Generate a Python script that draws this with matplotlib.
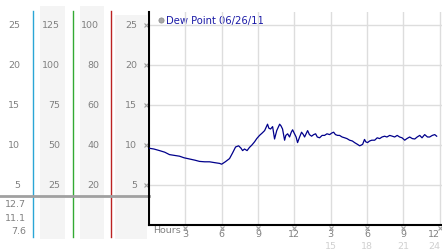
import matplotlib

matplotlib.use("Agg")
import matplotlib.pyplot as plt
from matplotlib import transforms

# dew point readings, hours since midnight
hours = [0.0, 0.4, 0.87, 1.3, 1.69, 2.1, 2.52, 2.9, 3.35, 3.8, 4.17, 4.6, 5.0, 5.4,
         5.83, 6.0, 6.3, 6.65, 6.9, 7.15, 7.4, 7.6, 7.73, 7.89, 8.1, 8.3, 8.5, 8.72,
         8.9, 9.13, 9.35, 9.55, 9.79, 9.9, 10.04, 10.21, 10.37, 10.55, 10.79, 10.9,
         11.03, 11.2, 11.3, 11.45, 11.61, 11.75, 11.86, 12.02, 12.15, 12.27, 12.44,
         12.6, 12.75, 12.85, 13.1, 13.25, 13.43, 13.6, 13.76, 13.9, 14.09, 14.3, 14.5,
         14.7, 14.92, 15.1, 15.25, 15.4, 15.58, 15.74, 15.95, 16.16, 16.35, 16.57,
         16.8, 16.98, 17.2, 17.4, 17.55, 17.65, 17.8, 17.9, 18.05, 18.22, 18.4,
         18.64, 18.85, 19.05, 19.25, 19.46, 19.65, 19.88, 20.1, 20.29, 20.5, 20.7,
         20.9, 21.12, 21.3, 21.53, 21.75, 21.95, 22.15, 22.36, 22.55, 22.77, 23.0,
         23.18, 23.4, 23.6, 23.76]
dew_point = [9.6, 9.5, 9.3, 9.1, 8.8, 8.7, 8.6, 8.4, 8.25, 8.1, 7.95, 7.9, 7.9, 7.8,
             7.7, 7.6, 7.9, 8.3, 9.0, 9.75, 9.9, 9.6, 9.3, 9.5, 9.3, 9.7, 10.0, 10.4,
             10.8, 11.2, 11.5, 11.8, 12.6, 12.1, 12.0, 12.3, 10.75, 11.8, 12.6, 12.4,
             12.0, 10.6, 11.2, 11.4, 11.0, 11.6, 11.9, 11.4, 11.0, 10.3, 11.0, 11.6,
             11.3, 11.0, 11.8, 11.3, 11.1, 11.3, 11.4, 11.0, 10.9, 11.2, 11.2, 11.4,
             11.3, 11.5, 11.6, 11.3, 11.2, 11.2, 11.0, 10.9, 10.8, 10.6, 10.5, 10.3,
             10.1, 9.9, 10.0, 10.1, 10.7, 10.4, 10.3, 10.5, 10.6, 10.6, 10.9, 10.8,
             11.0, 11.1, 11.0, 11.2, 11.1, 11.0, 11.2, 11.0, 10.9, 10.6, 10.8, 11.0,
             10.8, 10.75, 11.0, 11.2, 10.9, 11.3, 11.0, 11.0, 11.2, 11.3, 11.1]

y_ticks = [5, 10, 15, 20, 25]
scale2 = [25, 50, 75, 100, 125]
scale3 = [20, 40, 60, 80, 100]
x_ticks = [3, 6, 9, 12, 15, 18, 21, 24]
x_labels = ["3", "6", "9", "12", "3", "6", "9", "12"]
x_labels2 = ["15", "18", "21", "24"]
stats = ["12.7", "11.1", "7.6"]
legend_text = "Dew Point 06/26/11"

W, H = 442, 253
grey_txt = "#808080"
fs = 6.8

fig = plt.figure(figsize=(W / 100, H / 100), dpi=100)
fig.set_facecolor("white")

# pixel-coordinate layer for the side panel
deco = fig.add_axes([0, 0, 1, 1])
deco.set_xlim(0, W)
deco.set_ylim(H, 0)
deco.axis("off")

ax = fig.add_axes([149 / W, 27 / H, (W - 149) / W, 213 / H])
ax.set_xlim(0, 24.2)
ax.set_ylim(0, 26.625)
ax.patch.set_alpha(0)

# column backgrounds and colored dividers
for x0, x1, y0 in [(40, 65, 7), (80, 104, 7), (115, 147, 16)]:
    deco.fill_between([x0, x1], y0, 240, color="#f4f4f4", lw=0)
for xc, col in [(33, "#2aa6d6"), (73, "#33aa33"), (111, "#bb2222")]:
    deco.plot([xc, xc], [12, 238], color=col, lw=1)
deco.plot([0, 149], [197, 197], color="#a0a0a0", lw=2)

# side scale labels, aligned to the data y scale
side = transforms.blended_transform_factory(deco.transData, ax.transData)
for v, v2, v3 in zip(y_ticks, scale2, scale3):
    fig.text(20, v, str(v), transform=side, ha="right", va="center", fontsize=fs, color=grey_txt)
    fig.text(60, v, str(v2), transform=side, ha="right", va="center", fontsize=fs, color=grey_txt)
    fig.text(99, v, str(v3), transform=side, ha="right", va="center", fontsize=fs, color=grey_txt)
    fig.text(137, v, str(v), transform=side, ha="right", va="center", fontsize=fs, color=grey_txt)
    ax.plot([-0.25], [v], marker="x", ms=2.5, mew=0.8, color="#a0a0a0", clip_on=False)

for s, yp in zip(stats, [205, 219, 232]):
    deco.text(26, yp, s, ha="right", va="center", fontsize=fs, color=grey_txt)

# grid
for v in y_ticks:
    ax.axhline(v, color="#dddddd", lw=1, zorder=0)
for h in x_ticks:
    ax.axvline(h, color="#dddddd", lw=1, zorder=0)

ax.plot(hours, dew_point, color="#00008b", lw=0.9, zorder=3)

for sp in ["top", "right"]:
    ax.spines[sp].set_visible(False)
ax.spines["left"].set_linewidth(1.5)
ax.spines["bottom"].set_linewidth(1.5)
ax.set_xticks([])
ax.set_yticks([])

# x tick labels (last one kept inside the canvas)
bottom = transforms.blended_transform_factory(ax.transData, deco.transData)
for h, lab in zip(x_ticks, x_labels):
    deco.plot([h], [229], transform=bottom, marker="x", ms=2.5, mew=0.8, color="#a0a0a0", clip_on=False)
    ha = "right" if h == x_ticks[-1] else "center"
    xp = h + 0.05 if h == x_ticks[-1] else h
    fig.text(xp, 235, lab, transform=bottom, ha=ha, va="center", fontsize=fs, color=grey_txt)
for h, lab in zip(x_ticks[4:], x_labels2):
    ha = "right" if h == x_ticks[-1] else "center"
    xp = h + 0.05 if h == x_ticks[-1] else h
    fig.text(xp, 246.5, lab, transform=bottom, ha=ha, va="center", fontsize=fs, color="#d0d0d0")
deco.text(153, 231, "Hours", ha="left", va="center", fontsize=fs, color=grey_txt)

# legend
deco.scatter([160.7], [20.7], s=14, color="#a8a8a8", edgecolor="#888888", lw=0.5)
deco.text(165.5, 21, legend_text, ha="left", va="center", fontsize=7.2, color="#1a1aa6")

fig.savefig("out.png", dpi=100)
